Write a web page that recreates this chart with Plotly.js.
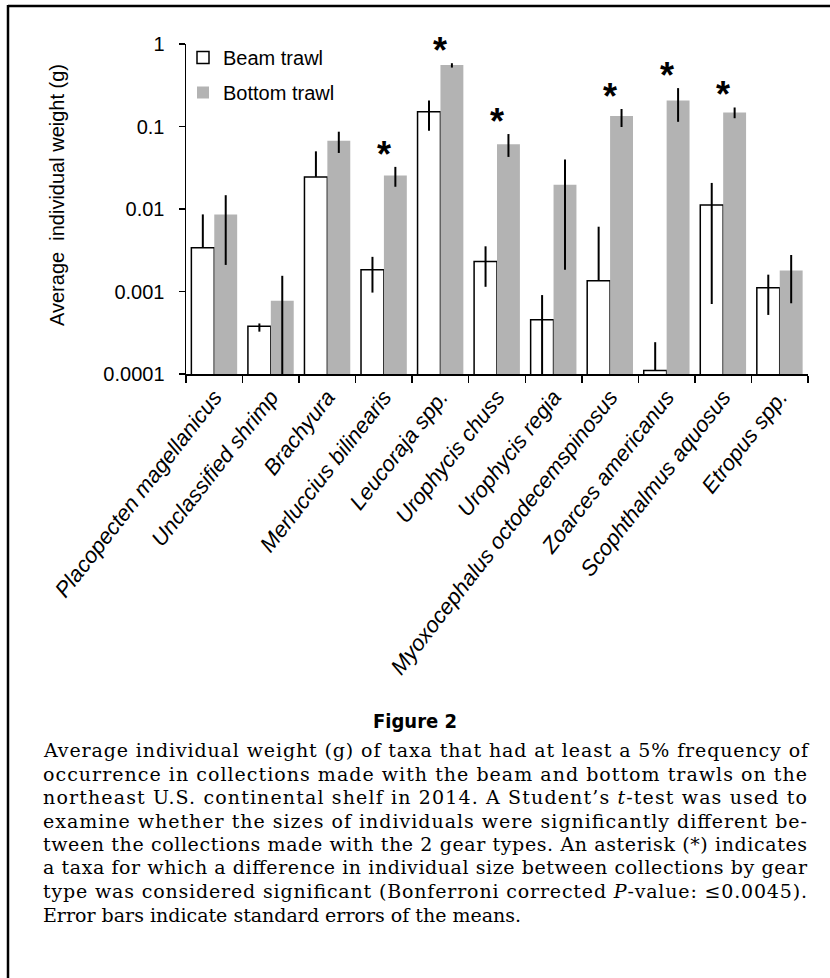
<!DOCTYPE html>
<html><head><meta charset="utf-8">
<script src="https://cdn.plot.ly/plotly-3.0.1.min.js"></script>
<style>html,body{margin:0;padding:0;background:#fff}#chart{width:830px;height:978px}</style>
</head><body><div id="chart"></div>
<script>
// ---- data ----
const categories = ['Placopecten magellanicus','Unclassified shrimp','Brachyura','Merluccius bilinearis','Leucoraja spp.','Urophycis chuss','Urophycis regia','Myoxocephalus octodecemspinosus','Zoarces americanus','Scophthalmus aquosus','Etropus spp.'];
const beam     = [0.0034, 0.00038, 0.0245, 0.00183, 0.151, 0.00231, 0.000456, 0.00135, 0.00011, 0.0112, 0.00111];
const beamHi   = [0.0086, 0.00041, 0.050, 0.00263, 0.207, 0.00353, 0.000905, 0.0061, 0.000243, 0.0207, 0.0016];
const beamLo   = [null, 0.000326, null, 0.00097, 0.089, 0.00114, 0.0001, null, null, 0.000705, 0.00052];
const bottom   = [0.0086, 0.00077, 0.0674, 0.0255, 0.557, 0.0608, 0.0197, 0.134, 0.207, 0.148, 0.0018];
const bottomHi = [0.0147, 0.00155, 0.0865, 0.0324, 0.585, 0.081, 0.0397, 0.163, 0.292, 0.170, 0.00277];
const bottomLo = [0.0021, 0.0001, 0.0478, 0.0186, 0.518, 0.0428, 0.00183, 0.0986, 0.114, 0.126, 0.00072];
const significant = [0,0,0,1,1,1,0,1,1,1,0];
const seriesNames = ['Beam trawl','Bottom trawl'];
const yTickVals = [0.0001, 0.001, 0.01, 0.1, 1];
const yTickText = ['0.0001','0.001','0.01','0.1','1'];
const yTitle = 'Average\u00a0 individual weight (g)';
const figTitle = 'Figure 2';
const captionLines = [
 'Average individual weight (g) of taxa that had at least a 5% frequency of',
 'occurrence in collections made with the beam and bottom trawls on the',
 'northeast U.S. continental shelf in 2014. A Student\u2019s <i>t</i>-test was used to',
 'examine whether the sizes of individuals were significantly different be-',
 'tween the collections made with the 2 gear types. An asterisk (*) indicates',
 'a taxa for which a difference in individual size between collections by gear',
 'type was considered significant (Bonferroni corrected <i>P</i>-value: \u22640.0045).',
 'Error bars indicate standard errors of the means.'
];

// ---- layout helpers ----
const W=830, H=978, L=186, R=22, T=44, B=604;
const PW=W-L-R, PH=H-T-B;
const px2x = px => (px-L)/PW;
const px2y = py => (H-B-py)/PH;
const SANS = 'Liberation Sans, Arial, sans-serif';

const plus = (v,hi) => v.map((d,i)=>hi[i]-d);
const minus = (v,lo) => v.map((d,i)=>lo[i]==null?0:d-lo[i]);

const traces = [
 {type:'bar', name:seriesNames[0], x:categories, y:beam, legendgroup:'a',
  marker:{color:'#ffffff', line:{color:'#000000', width:1.5}},
  error_y:{type:'data', symmetric:false, array:plus(beam,beamHi), arrayminus:minus(beam,beamLo), color:'#000', thickness:2, width:0}},
 {type:'bar', name:seriesNames[1], x:categories, y:bottom, legendgroup:'b',
  marker:{color:'#b3b3b3', line:{width:0}},
  error_y:{type:'data', symmetric:false, array:plus(bottom,bottomHi), arrayminus:minus(bottom,bottomLo), color:'#000', thickness:2, width:0}}
];

const annotations = [];
categories.forEach((c,i)=>{
  if(significant[i]) annotations.push({x:c, y:Math.log10(bottomHi[i]), xref:'x', yref:'y', text:'*', showarrow:false,
     yanchor:'bottom', yshift:-10, font:{family:SANS, size:36, weight:'bold', color:'#000'}});
});
annotations.push({xref:'paper', yref:'paper', x:px2x(57), y:px2y(195), text:yTitle, textangle:-90, showarrow:false,
  xanchor:'center', yanchor:'middle', font:{family:SANS, size:20, color:'#000'}});
annotations.push({xref:'paper', yref:'paper', x:px2x(415), y:px2y(721), text:'<b>'+figTitle+'</b>', showarrow:false,
  xanchor:'center', yanchor:'middle', font:{family:'DejaVu Sans Condensed, DejaVu Sans, sans-serif', size:20, color:'#000'}});
captionLines.forEach((t,i)=>{
  annotations.push({xref:'paper', yref:'paper', x:px2x(41), y:px2y(750+23.5*i), text:t, showarrow:false,
    xanchor:'left', yanchor:'middle', align:'left', font:{family:'DejaVu Serif, serif', size:19, color:'#000'}});
});

const shapes = [
 {type:'line', xref:'paper', yref:'paper', x0:px2x(8), x1:px2x(835), y0:px2y(6), y1:px2y(6), line:{color:'#000', width:2.5}},
 {type:'line', xref:'paper', yref:'paper', x0:px2x(8), x1:px2x(8), y0:px2y(5), y1:px2y(985), line:{color:'#000', width:2.5}}
];

const layout = {
  width:W, height:H, margin:{l:L, r:R, t:T, b:B},
  paper_bgcolor:'#fff', plot_bgcolor:'#fff',
  barmode:'group', bargap:0.19, bargroupgap:0,
  font:{family:SANS, size:20, color:'#000'},
  showlegend:true,
  legend:{x:px2x(183), y:px2y(38), xanchor:'left', yanchor:'top', bgcolor:'rgba(0,0,0,0)', borderwidth:0,
    font:{family:SANS, size:20, color:'#000'}, traceorder:'grouped', tracegroupgap:6},
  xaxis:{type:'category', tickson:'boundaries', ticks:'outside', ticklen:7, tickwidth:1.5, tickcolor:'#000',
    showline:true, linecolor:'#000', linewidth:1.5, showgrid:false, zeroline:false, tickangle:-52,
    tickfont:{family:SANS, size:22, style:'italic', color:'#000'}},
  yaxis:{type:'log', range:[-4,0], tickvals:yTickVals, ticktext:yTickText, ticks:'outside', ticklen:6, tickwidth:1.5,
    tickcolor:'#000', showline:true, linecolor:'#000', linewidth:1.5, showgrid:false, zeroline:false,
    ticklabelstandoff:10, tickfont:{family:SANS, size:20, color:'#000'}},
  annotations:annotations, shapes:shapes
};

Plotly.newPlot('chart', traces, layout, {displayModeBar:false, staticPlot:true}).then(()=>{
  // justify caption lines (all but last) to the column width
  const plain = captionLines.map(s=>s.replace(/<[^>]+>/g,''));
  document.querySelectorAll('.annotation-text').forEach(el=>{
    const idx = plain.indexOf(el.textContent);
    if(idx>=0 && idx<plain.length-1){
      el.setAttribute('textLength', 764);
      el.setAttribute('lengthAdjust','spacing');
    }
  });
});
</script>
</body></html>
